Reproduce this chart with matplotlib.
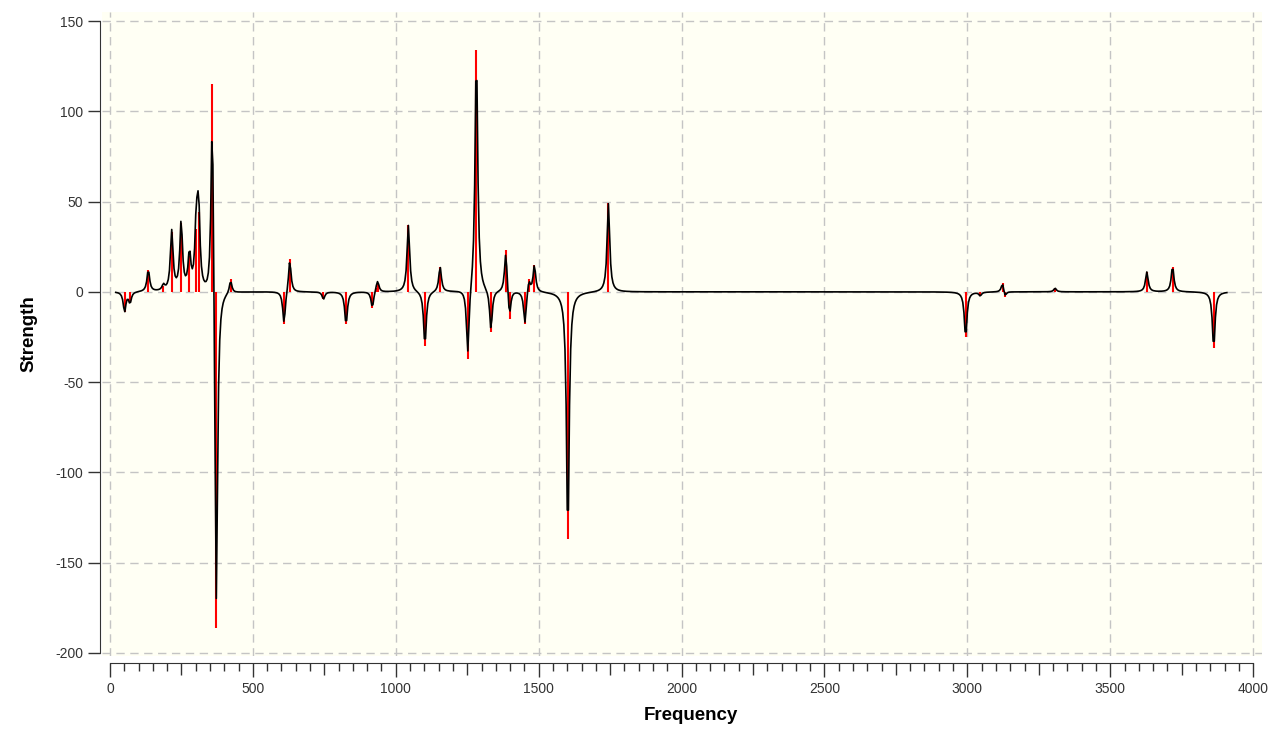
import numpy as np
import matplotlib.pyplot as plt
from matplotlib.ticker import MultipleLocator

plt.rcParams['axes.unicode_minus'] = False

# stick spectrum (cm^-1, strength)
freqs = [51, 70, 134, 187, 216, 249, 278, 302, 310, 358, 372, 422,
         609, 629, 747, 826, 918, 933, 937, 1044, 1102, 1155, 1252, 1282,
         1333, 1385, 1398, 1452, 1466, 1485, 1602, 1744,
         2994, 3045, 3123, 3132, 3307, 3628, 3718, 3862]
strengths = [-11, -6, 12, 3, 33, 38, 20, 35, 44, 115, -186, 7,
             -18, 18, -4, -18, -9, 2, 5, 37, -30, 14, -37, 134,
             -22, 23, -15, -18, 7, 15, -137, 49,
             -25, -2, 5, -3, 2, 11, 14, -31]

hwhm = 5.5
grid_start, grid_stop, grid_step = 20, 3910, 4

# lorentzian broadened curve built from the sticks
x = np.arange(grid_start, grid_stop, grid_step, dtype=float)
y = np.zeros_like(x)
for f, s in zip(freqs, strengths):
    y += s * hwhm**2 / ((x - f)**2 + hwhm**2)

fig = plt.figure(figsize=(12.8, 7.31), dpi=100)
ax = fig.add_axes([102/1280, 1 - 656/731, 1160/1280, 644/731])
ax.set_facecolor('#fffff4')

ax.vlines(freqs, 0, strengths, color='#ff0000', lw=1.5, zorder=2)
ax.plot(x, y, color='black', lw=1.2, zorder=3)

ax.set_xlim(-28, 4031)
ax.set_ylim(-201.7, 155)

ax.xaxis.set_major_locator(MultipleLocator(500))
ax.xaxis.set_minor_locator(MultipleLocator(50))
ax.yaxis.set_major_locator(MultipleLocator(50))

ax.grid(True, which='major', color='#c4c4c4', ls=(0, (6, 4)), lw=1)
ax.set_axisbelow(True)

for side in ['top', 'right']:
    ax.spines[side].set_visible(False)
ax.spines['left'].set_position(('outward', 1.5))
ax.spines['left'].set_bounds(-200, 150)
ax.spines['bottom'].set_position(('outward', 5))
ax.spines['bottom'].set_bounds(0, 4000)
ax.spines['left'].set_color('#333333')
ax.spines['bottom'].set_color('#333333')

ax.tick_params(axis='y', which='major', length=9, width=1, pad=3,
               labelsize=10, colors='#333333')
ax.tick_params(axis='x', which='major', length=10, width=1, pad=4,
               labelsize=10, colors='#333333')
ax.tick_params(axis='x', which='minor', length=6, width=1, color='#333333')

# slightly longer ticks halfway between the labelled ones
minor_locs = ax.xaxis.get_minorticklocs()
for loc, tick in zip(minor_locs, ax.xaxis.get_minor_ticks(len(minor_locs))):
    if abs((loc - 250) % 500) < 1e-6:
        tick.tick1line.set_markersize(8.5)

for lab in ax.get_xticklabels() + ax.get_yticklabels():
    lab.set_family('Liberation Sans')

ax.set_xlabel('Frequency', fontsize=13.5, fontweight='bold', family='Liberation Sans')
ax.set_ylabel('Strength', fontsize=13.5, fontweight='bold', family='Liberation Sans')
ax.xaxis.set_label_coords(0.508, -0.079)
ax.yaxis.set_label_coords(-0.056, 0.5)

fig.savefig('out.png', dpi=100)
